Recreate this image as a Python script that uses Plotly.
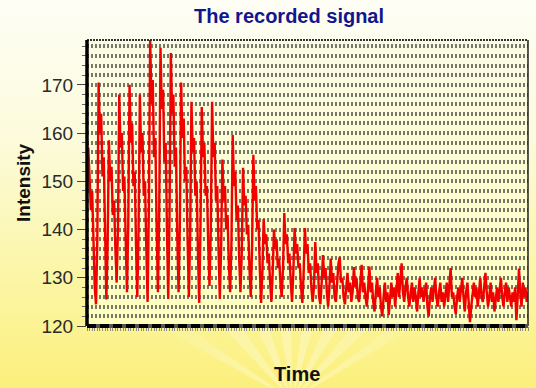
import base64
import plotly.graph_objects as go

# ---------------- data ----------------
title_text = "The recorded signal"
x_title = "Time"
y_title = "Intensity"
y_tick_values = [120, 130, 140, 150, 160, 170]

osc_part = [
    148, 157, 151, 144, 148, 136, 128, 124.5,
    138, 170.5, 160, 164, 151, 155, 140, 125.5,
    137, 158.5, 150, 153, 143, 146, 136, 129,
    140, 168, 157, 160, 148, 151, 138, 127,
    141, 170, 158, 162, 149, 152, 137, 126,
    140, 168, 156, 160, 147, 150, 136, 125,
    145, 179.3, 166, 171, 155, 159, 141, 127,
    144, 177.7, 165, 169, 154, 158, 140, 125.6,
    143, 176.6, 164, 168, 153, 157, 139, 127,
    141, 170.5, 159, 163, 150, 153, 138, 126,
    139, 166.5, 156, 159, 147, 150, 136, 124.8,
    140, 165.4, 155, 158, 147, 149, 137, 128.3,
    140, 166.5, 155, 158, 146, 149, 136, 125.6,
    136, 154.5, 146, 149, 140, 143, 133, 127,
    137, 159.6, 149, 152, 142, 145, 134, 127,
    135, 152.8, 145, 147, 139, 141, 132, 126,
    136, 155.5, 146, 149, 140, 142, 132, 124.8,
    131, 142.2, 137, 139, 133, 135, 129, 125,
    131, 140, 136, 138, 132, 134, 129, 126,
    132, 143.4, 137, 139, 133, 135, 129, 125,
    131, 140.3, 135, 137, 132, 133, 128, 124.8,
    131, 140.3, 135, 137, 131, 133, 128, 125,
]
noise_part = [
    128, 137.4, 131, 133, 126, 124.5, 129, 134.7, 130, 132, 127, 124, 128, 134, 129, 131, 126, 125, 129, 133,
    134.3, 129, 130, 126, 124.5, 128, 131, 127, 129, 125, 127, 132.2, 128, 130, 126, 125, 128, 132.7, 127, 129,
    126, 124, 128, 132.3, 127, 129, 125, 123, 127, 130, 126, 128, 124, 122, 126, 129, 125, 127, 122.3, 126,
    129, 126, 128, 124, 127, 131, 126, 129, 133, 127, 125, 128, 130, 126, 124, 127, 129, 125, 128, 126,
    123, 127, 130, 126, 128, 125, 127, 129, 124, 122, 126, 128, 125, 127, 130, 126, 124, 127, 129, 125,
    127, 124, 126, 129, 125, 128, 132, 126, 127, 124, 122.5, 126, 128, 125, 127, 130, 126, 123, 127, 129,
    125, 120.8, 124, 127, 129, 126, 128, 124, 127, 130, 126, 125, 128, 131, 127, 124, 126, 129, 125, 127,
    123, 126, 128, 125, 127, 130, 126, 124, 127, 129, 125, 128, 126, 124, 127, 125, 128, 121.2, 126, 131.9,
    127, 124, 129, 126, 128, 125, 127,
]
intensity = osc_part + noise_part
time = list(range(len(intensity)))

# ---------------- background art ----------------
W, H = 536, 388
L, R, T, B = 87, 8, 40, 62
PW, PH = W - L - R, H - T - B

svg = f"""<svg xmlns='http://www.w3.org/2000/svg' width='{W}' height='{H}' viewBox='0 0 {W} {H}'>
<defs>
<linearGradient id='bg' x1='0' y1='0' x2='0' y2='1'>
<stop offset='0' stop-color='#fefef6'/>
<stop offset='0.35' stop-color='#fcfbdc'/>
<stop offset='0.7' stop-color='#fbf6a8'/>
<stop offset='1' stop-color='#fbf07c'/>
</linearGradient>
<radialGradient id='ray' gradientUnits='userSpaceOnUse' cx='292' cy='400' r='160'>
<stop offset='0' stop-color='#ffffff' stop-opacity='0.4'/>
<stop offset='1' stop-color='#ffffff' stop-opacity='0'/>
</radialGradient>
<linearGradient id='pb' x1='0' y1='0' x2='0' y2='1'>
<stop offset='0' stop-color='#fbfbe6'/>
<stop offset='1' stop-color='#fefebc'/>
</linearGradient>
</defs>
<rect width='{W}' height='{H}' fill='url(#bg)'/>
<polygon points='292,400 150,250 180,238' fill='url(#ray)'/>
<polygon points='292,400 205,225 235,220' fill='url(#ray)'/>
<polygon points='292,400 262,215 290,214' fill='url(#ray)'/>
<polygon points='292,400 318,214 345,216' fill='url(#ray)'/>
<polygon points='292,400 372,222 400,228' fill='url(#ray)'/>
<polygon points='292,400 425,238 452,250' fill='url(#ray)'/>
<polygon points='292,400 110,300 122,282' fill='url(#ray)'/>
<polygon points='292,400 470,270 482,287' fill='url(#ray)'/>
<rect x='{L}' y='{T}' width='{PW}' height='{PH}' fill='url(#pb)'/>
</svg>"""
src = "data:image/svg+xml;base64," + base64.b64encode(svg.encode()).decode()

fig = go.Figure()
fig.add_trace(go.Scatter(
    x=time, y=intensity, mode="lines",
    line=dict(color="#f20000", width=2.4),
    hoverinfo="skip", showlegend=False,
))

grid_col = "#77776a"
fig.update_layout(
    width=W, height=H,
    margin=dict(l=L, r=R, t=T, b=B, autoexpand=False),
    paper_bgcolor="#fcf8c0",
    plot_bgcolor="rgba(0,0,0,0)",
    font=dict(family="Liberation Sans, Arial, sans-serif", color="#222222"),
    showlegend=False,
    images=[dict(
        source=src, xref="paper", yref="paper",
        x=-L / PW, y=1 + T / PH, sizex=W / PW, sizey=H / PH,
        xanchor="left", yanchor="top", sizing="stretch", layer="below",
    )],
    xaxis=dict(
        range=[0, len(intensity) - 1], showticklabels=False,
        showgrid=False, zeroline=False,
        ticks="outside", dtick=2, ticklen=4, tickcolor="#8a8a80", tickwidth=1,
        showline=False,
    ),
    yaxis=dict(
        range=[120, 179.3], tickvals=y_tick_values,
        ticks="outside", ticklen=9, tickcolor="#444444", tickwidth=1,
        tickfont=dict(size=19, color="#2a2a2a"),
        showgrid=True, gridcolor=grid_col, gridwidth=4, griddash="2px,2px",
        zeroline=False, showline=False,
        minor=dict(dtick=2, showgrid=True, gridcolor=grid_col, gridwidth=4,
                   griddash="2px,2px", ticks="outside", ticklen=4,
                   tickcolor="#666666"),
    ),
    annotations=[
        dict(text=f"<b>{title_text}</b>", xref="paper", yref="paper",
             x=(289 - L) / PW, y=1 + (T - 16) / PH, xanchor="center", yanchor="middle",
             showarrow=False, font=dict(size=20, color="#12168e")),
        dict(text=f"<b>{x_title}</b>", xref="paper", yref="paper",
             x=(297 - L) / PW, y=-(374 - (T + PH)) / PH, xanchor="center", yanchor="middle",
             showarrow=False, font=dict(size=20, color="#111111")),
        dict(text=f"<b>{y_title}</b>", xref="paper", yref="paper",
             x=(23 - L) / PW, y=0.5, xanchor="center", yanchor="middle", textangle=-90,
             showarrow=False, font=dict(size=19, color="#111111")),
    ],
    shapes=[
        dict(type="line", xref="paper", yref="paper", x0=0, x1=1, y0=1, y1=1,
             line=dict(color="#333333", width=2, dash="2px,1px"), layer="above"),
        dict(type="line", xref="paper", yref="paper", x0=1, x1=1, y0=0, y1=1,
             line=dict(color="#222222", width=1.5), layer="above"),
        dict(type="line", xref="paper", yref="paper", x0=0, x1=0, y0=0, y1=1,
             line=dict(color="#000000", width=3.5), layer="above"),
        dict(type="line", xref="paper", yref="paper", x0=0, x1=1, y0=0, y1=0,
             line=dict(color="#555555", width=4), layer="above"),
        dict(type="line", xref="paper", yref="paper", x0=0, x1=1, y0=0, y1=0,
             line=dict(color="#000000", width=4, dash="9px,4px"), layer="above"),
    ],
)

fig.write_html(
    "out.html",
    config={"displayModeBar": False, "staticPlot": True},
    post_script="document.body.style.margin='0';document.body.style.overflow='hidden';",
)
